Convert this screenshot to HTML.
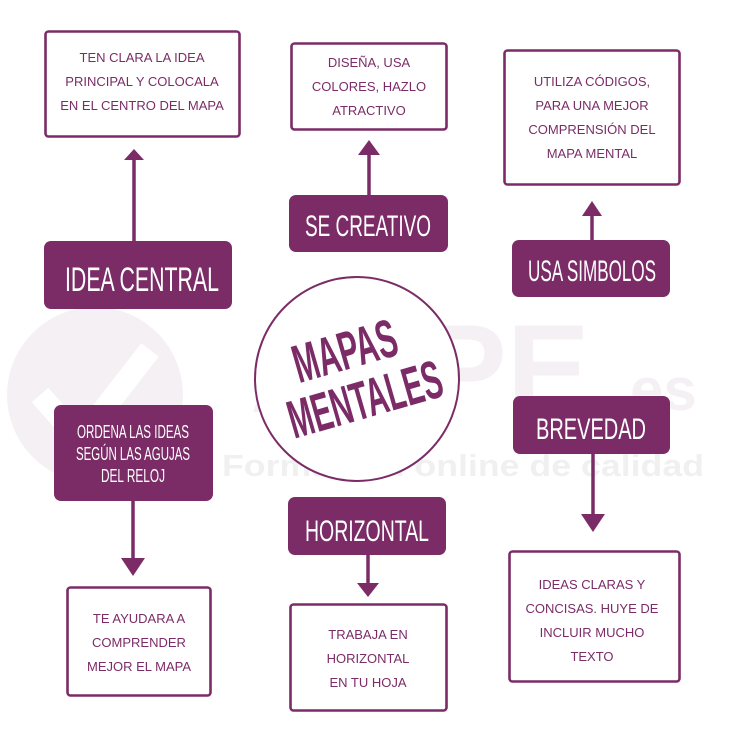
<!DOCTYPE html>
<html><head><meta charset="utf-8"><style>
html,body{margin:0;padding:0;background:#fff;}
svg{display:block;}
.o{font-family:"Liberation Sans",sans-serif;font-size:13px;fill:#7b2c67;text-anchor:middle;}
.f{font-family:"Liberation Sans Narrow","Liberation Sans",sans-serif;fill:#fff;text-anchor:middle;}
</style></head><body>
<svg width="736" height="736" viewBox="0 0 736 736" xmlns="http://www.w3.org/2000/svg">
<g opacity="0.9">
<circle cx="95" cy="395" r="88" fill="#f5eff3"/>
<path d="M40 395 L80 440 L150 350" stroke="#fff" stroke-width="22" fill="none"/>
<text x="420" y="412" font-family="Liberation Sans,sans-serif" font-weight="bold" font-size="125" fill="#f5eff3" text-anchor="middle" textLength="340" lengthAdjust="spacingAndGlyphs">APPE</text>
<text x="655" y="410" font-family="Liberation Sans,sans-serif" font-weight="bold" font-size="60" fill="#f5eff3" text-anchor="middle">.es</text>
<text x="463" y="476" font-family="Liberation Sans,sans-serif" font-weight="bold" font-size="31" fill="#efefef" text-anchor="middle" textLength="482" lengthAdjust="spacingAndGlyphs">Formación online de calidad</text>
</g>
<g stroke="#7b2c67" stroke-width="2.6" fill="#fff">
<rect x="45.5" y="31.5" width="194" height="105" rx="3"/>
<rect x="291.5" y="43.5" width="155" height="86" rx="3"/>
<rect x="504.5" y="50.5" width="175" height="134" rx="3"/>
<rect x="67.5" y="587.5" width="143" height="108" rx="3"/>
<rect x="290.5" y="604.5" width="156" height="106" rx="3"/>
<rect x="509.5" y="551.5" width="170" height="130" rx="3"/>
</g>
<g stroke="#7b2c67" stroke-width="3.5">
<line x1="134" y1="156" x2="134" y2="242"/>
<line x1="369" y1="152" x2="369" y2="196"/>
<line x1="592" y1="213" x2="592" y2="241"/>
<line x1="133" y1="500" x2="133" y2="560"/>
<line x1="368" y1="554" x2="368" y2="585"/>
<line x1="593" y1="453" x2="593" y2="516"/>
</g>
<g fill="#7b2c67">
<polygon points="124,160 144,160 134,149"/>
<polygon points="358,155 380,155 369,140"/>
<polygon points="582,216 602,216 592,201"/>
<polygon points="121,558 145,558 133,576"/>
<polygon points="357,583 379,583 368,597"/>
<polygon points="581,514 605,514 593,532"/>
<rect x="44" y="241" width="188" height="68" rx="7"/>
<rect x="289" y="195" width="159" height="57" rx="7"/>
<rect x="512" y="240" width="158" height="57" rx="7"/>
<rect x="54" y="405" width="159" height="96" rx="7"/>
<rect x="288" y="497" width="158" height="58" rx="7"/>
<rect x="513" y="396" width="157" height="58" rx="7"/>
</g>
<circle cx="357" cy="379" r="102" fill="#fff" stroke="#7b2c67" stroke-width="2"/>
<g transform="rotate(-16 357 375)">
<text class="f" x="352" y="367" font-size="54" font-weight="bold" style="fill:#7b2c67" textLength="106" lengthAdjust="spacingAndGlyphs">MAPAS</text>
<text class="f" x="358" y="419" font-size="54" font-weight="bold" style="fill:#7b2c67" textLength="158" lengthAdjust="spacingAndGlyphs">MENTALES</text>
</g>
<g class="o">
<text x="142" y="62">TEN CLARA LA IDEA</text>
<text x="142" y="86">PRINCIPAL Y COLOCALA</text>
<text x="142" y="110">EN EL CENTRO DEL MAPA</text>
<text x="369" y="67">DISEÑA, USA</text>
<text x="369" y="91">COLORES, HAZLO</text>
<text x="369" y="115">ATRACTIVO</text>
<text x="592" y="86">UTILIZA CÓDIGOS,</text>
<text x="592" y="110">PARA UNA MEJOR</text>
<text x="592" y="134">COMPRENSIÓN DEL</text>
<text x="592" y="158">MAPA MENTAL</text>
<text x="139" y="623">TE AYUDARA A</text>
<text x="139" y="647">COMPRENDER</text>
<text x="139" y="671">MEJOR EL MAPA</text>
<text x="368" y="639">TRABAJA EN</text>
<text x="368" y="663">HORIZONTAL</text>
<text x="368" y="687">EN TU HOJA</text>
<text x="592" y="589">IDEAS CLARAS Y</text>
<text x="592" y="613">CONCISAS. HUYE DE</text>
<text x="592" y="637">INCLUIR MUCHO</text>
<text x="592" y="661">TEXTO</text>
</g>
<text class="f" x="142" y="291" font-size="34" textLength="154" lengthAdjust="spacingAndGlyphs">IDEA CENTRAL</text>
<text class="f" x="368" y="236" font-size="30" textLength="126" lengthAdjust="spacingAndGlyphs">SE CREATIVO</text>
<text class="f" x="592" y="281" font-size="30" textLength="128" lengthAdjust="spacingAndGlyphs">USA SIMBOLOS</text>
<text class="f" x="367" y="541" font-size="30" textLength="124" lengthAdjust="spacingAndGlyphs">HORIZONTAL</text>
<text class="f" x="591" y="439" font-size="30" textLength="110" lengthAdjust="spacingAndGlyphs">BREVEDAD</text>
<text class="f" x="133" y="438" font-size="18" textLength="112" lengthAdjust="spacingAndGlyphs">ORDENA LAS IDEAS</text>
<text class="f" x="133" y="460" font-size="18" textLength="114" lengthAdjust="spacingAndGlyphs">SEGÚN LAS AGUJAS</text>
<text class="f" x="133" y="482" font-size="18" textLength="64" lengthAdjust="spacingAndGlyphs">DEL RELOJ</text>
</svg>
</body></html>
